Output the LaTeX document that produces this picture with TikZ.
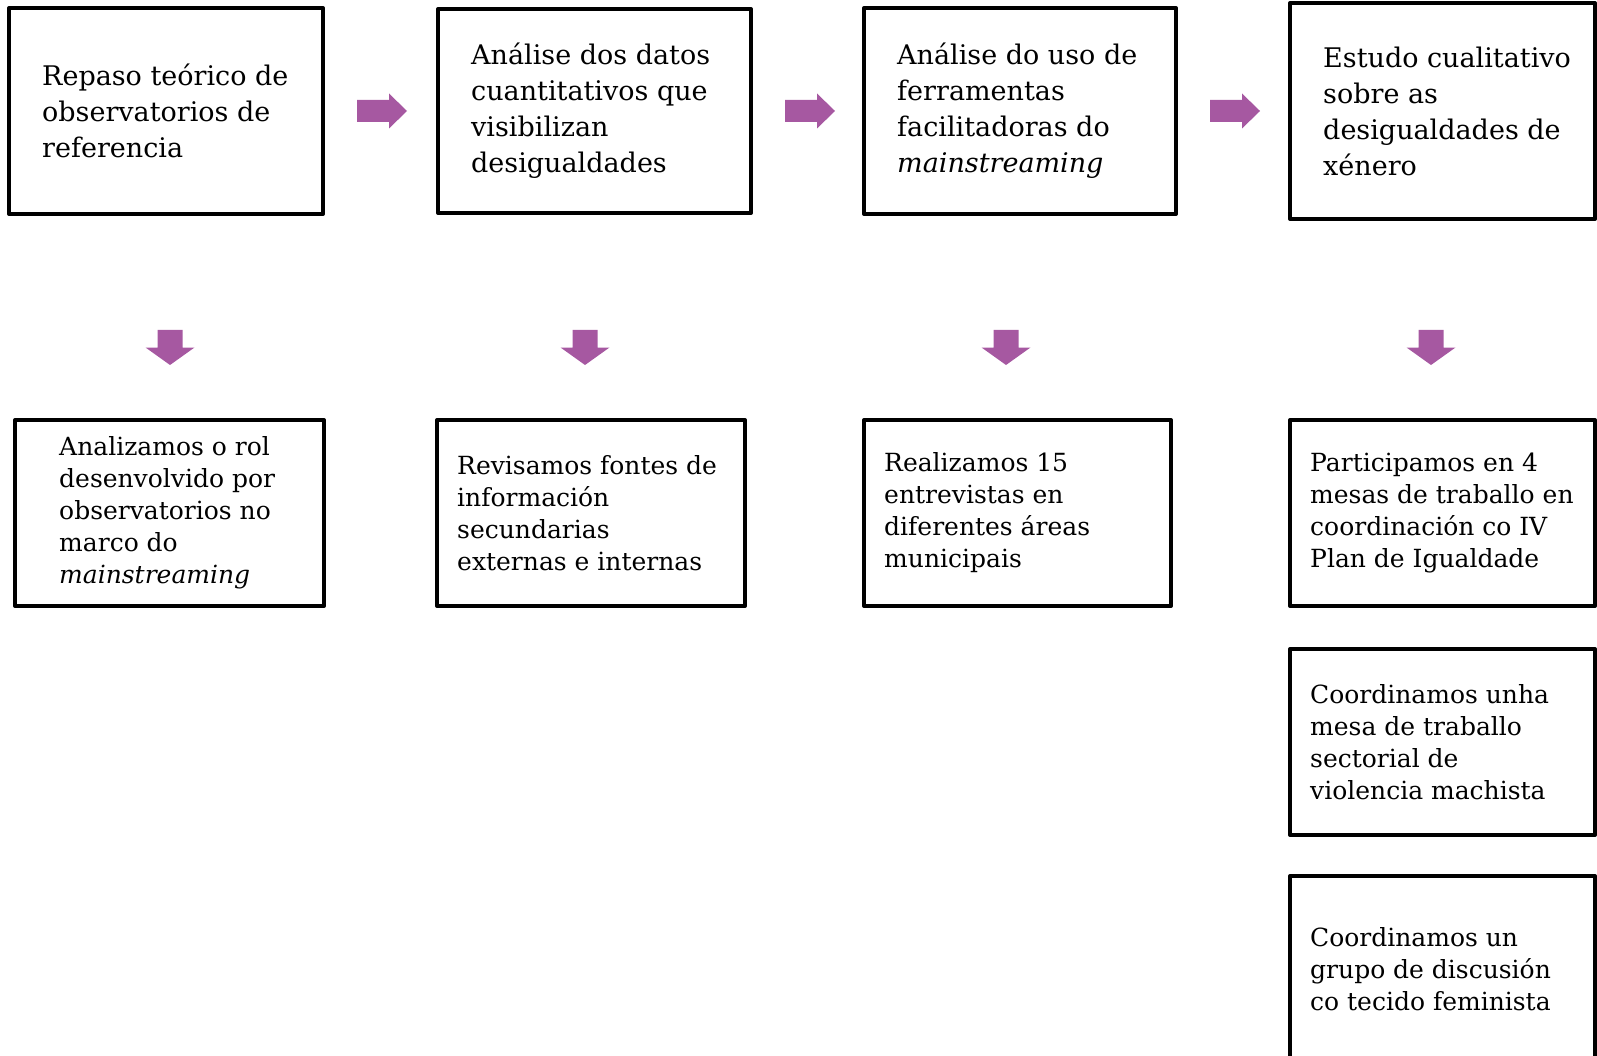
\documentclass[tikz,border=0pt]{standalone}
\usepackage{fontspec}
\setmainfont{DejaVu Serif}
\usetikzlibrary{positioning}
\definecolor{frecha}{RGB}{166,88,161}
\tikzstyle{caixa} = [rectangle, draw=black, line width=4pt, line join=round, inner sep=0pt]
\tikzstyle{texto} = [inner sep=0pt, align=left, anchor=west]
\tikzstyle{grande} = [texto, font=\fontsize{27}{36}\selectfont]
\tikzstyle{pequeno} = [texto, font=\fontsize{25}{32}\selectfont]
\newcommand{\avance}[1]{\fill[frecha] (#1) ++(-25,-11) -- ++(32,0) -- ++(0,-6.5) -- ++(18,17.5) -- ++(-18,17.5) -- ++(0,-6.5) -- ++(-32,0) -- cycle;}
\newcommand{\baixada}[1]{\fill[frecha] (#1) ++(-12.5,-17.5) -- ++(25,0) -- ++(0,17.5) -- ++(12,0) -- ++(-24.5,17.5) -- ++(-24.5,-17.5) -- ++(12,0) -- cycle;}
\begin{document}
\begin{tikzpicture}[x=1pt,y=-1pt]
			\useasboundingbox (0,0) rectangle (1597,1056);
			\clip (0,0) rectangle (1597,1056);
			% fila de arriba
			\node [caixa, minimum width=314pt, minimum height=206pt] (paso1) at (166,111) {};
			\node [caixa, minimum width=313pt, minimum height=204pt] (paso2) at (594.5,111) {};
			\node [caixa, minimum width=312pt, minimum height=206pt] (paso3) at (1020,111) {};
			\node [caixa, minimum width=305pt, minimum height=216pt] (paso4) at (1442.5,111) {};
			\node [grande, right=35pt of paso1.west] (texto1) {Repaso teórico de\\observatorios de\\referencia};
			\node [grande, right=35pt of paso2.west] (texto2) {Análise dos datos\\cuantitativos que\\visibilizan\\desigualdades};
			\node [grande, right=35pt of paso3.west] (texto3) {Análise do uso de\\ferramentas\\facilitadoras do\\\emph{mainstreaming}};
			\node [grande, right=35pt of paso4.west] (texto4) {Estudo cualitativo\\sobre as\\desigualdades de\\xénero};
			\coordinate (dereita1) at (382,111);
			\coordinate (dereita2) at (810,111);
			\coordinate (dereita3) at (1235,111);
			\avance{dereita1} \avance{dereita2} \avance{dereita3}
			\coordinate (abaixo1) at (170,347.5);
			\coordinate (abaixo2) at (585,347.5);
			\coordinate (abaixo3) at (1006,347.5);
			\coordinate (abaixo4) at (1431,347.5);
			\baixada{abaixo1} \baixada{abaixo2} \baixada{abaixo3} \baixada{abaixo4}
			% fila de abaixo
			\node [caixa, minimum width=309pt, minimum height=186pt] (feito1) at (169.5,513) {};
			\node [caixa, minimum width=308pt, minimum height=186pt] (feito2) at (591,513) {};
			\node [caixa, minimum width=307pt, minimum height=186pt] (feito3) at (1017.5,513) {};
			\node [caixa, minimum width=305pt, minimum height=186pt] (feito4) at (1442.5,513) {};
			\node [caixa, minimum width=305pt, minimum height=186pt] (feito5) at (1442.5,742) {};
			\node [caixa, minimum width=305pt, minimum height=186pt] (feito6) at (1442.5,969) {};
			\node [pequeno, right=46pt of feito1.west] (nota1) {Analizamos o rol\\desenvolvido por\\observatorios no\\marco do\\\emph{mainstreaming}};
			\node [pequeno, right=22pt of feito2.west] (nota2) {Revisamos fontes de\\información\\secundarias\\externas e internas};
			\node [pequeno, right=22pt of feito3.west] (nota3) {Realizamos 15\\entrevistas en\\diferentes áreas\\municipais};
			\node [pequeno, right=22pt of feito4.west] (nota4) {Participamos en 4\\mesas de traballo en\\coordinación co IV\\Plan de Igualdade};
			\node [pequeno, right=22pt of feito5.west] (nota5) {Coordinamos unha\\mesa de traballo\\sectorial de\\violencia machista};
			\node [pequeno, right=22pt of feito6.west] (nota6) {Coordinamos un\\grupo de discusión\\co tecido feminista};
		\end{tikzpicture}
\end{document}
